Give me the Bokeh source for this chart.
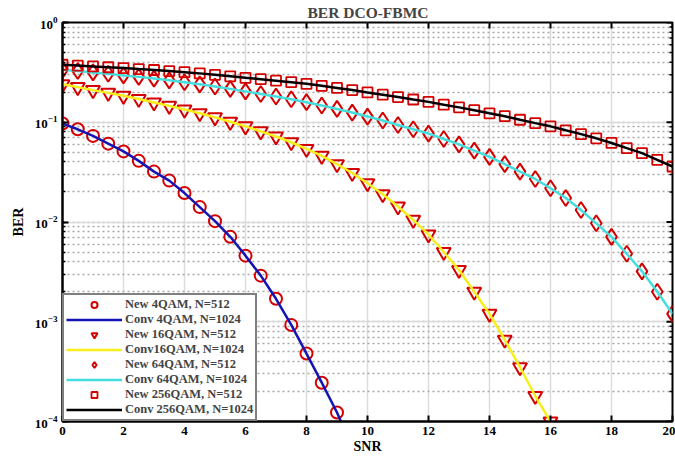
import math
from bokeh.plotting import figure
from bokeh.models import Range1d, FixedTicker, Legend, LegendItem
from bokeh.embed import file_html
from bokeh.resources import INLINE

# ---------------- data ----------------
snr_4qam = [0, 0.5, 1, 1.5, 2, 2.5, 3, 3.5, 4, 4.5, 5, 5.5, 6, 6.5, 7, 7.5, 8, 8.5, 9]
ber_new_4qam = [0.097, 0.085, 0.073, 0.061, 0.051, 0.041, 0.032, 0.026, 0.0195, 0.0141,
                0.0102, 0.0071, 0.0046, 0.0029, 0.0017, 0.00093, 0.00048, 0.000245, 0.000123]
snr_conv_4qam = snr_4qam + [9.5]
ber_conv_4qam = ber_new_4qam + [0.000055]

snr_16qam = [0, 0.5, 1, 1.5, 2, 2.5, 3, 3.5, 4, 4.5, 5, 5.5, 6, 6.5, 7, 7.5, 8,
             8.5, 9, 9.5, 10, 10.5, 11, 11.5, 12, 12.5, 13, 13.5, 14, 14.5, 15, 15.5, 16]
ber_new_16qam = [0.24, 0.225, 0.21, 0.197, 0.184, 0.171, 0.158, 0.146, 0.134, 0.123,
                 0.112, 0.101, 0.091, 0.081, 0.072, 0.063, 0.054, 0.046, 0.038, 0.031,
                 0.0245, 0.019, 0.0143, 0.0105, 0.0075, 0.0050, 0.0033, 0.0020, 0.0012,
                 0.00066, 0.00035, 0.00018, 0.0001]
ber_conv_16qam = ber_new_16qam

snr_full = [0, 0.5, 1, 1.5, 2, 2.5, 3, 3.5, 4, 4.5, 5, 5.5, 6, 6.5, 7, 7.5, 8, 8.5, 9, 9.5,
            10, 10.5, 11, 11.5, 12, 12.5, 13, 13.5, 14, 14.5, 15, 15.5, 16, 16.5, 17, 17.5,
            18, 18.5, 19, 19.5, 20]
ber_new_64qam = [0.335, 0.326, 0.316, 0.306, 0.295, 0.285, 0.274, 0.263, 0.252, 0.240,
                 0.228, 0.216, 0.204, 0.192, 0.181, 0.170, 0.159, 0.147, 0.136, 0.125,
                 0.114, 0.104, 0.094, 0.085, 0.077, 0.068, 0.060, 0.052, 0.045, 0.038,
                 0.032, 0.027, 0.0218, 0.0174, 0.0132, 0.0097, 0.0071, 0.0048, 0.0032,
                 0.0020, 0.0012]
ber_conv_64qam = ber_new_64qam

ber_new_256qam = [0.377, 0.370, 0.363, 0.356, 0.349, 0.341, 0.334, 0.326, 0.318, 0.309,
                  0.299, 0.289, 0.279, 0.270, 0.261, 0.252, 0.243, 0.232, 0.221, 0.210,
                  0.199, 0.189, 0.179, 0.169, 0.160, 0.150, 0.141, 0.132, 0.123, 0.115,
                  0.106, 0.098, 0.091, 0.083, 0.076, 0.069, 0.062, 0.055, 0.049, 0.042,
                  0.036]
ber_conv_256qam = ber_new_256qam

x_ticks = [0, 2, 4, 6, 8, 10, 12, 14, 16, 18, 20]
y_ticks = [1e-4, 1e-3, 1e-2, 1e-1, 1]
y_minor = [m * d for d in y_ticks[:-1] for m in range(2, 10)]

FONT = "Liberation Serif"
RED = "#d40000"

p = figure(width=675, height=465, y_axis_type="log", output_backend="svg",
           toolbar_location=None, x_range=Range1d(0, 20), y_range=Range1d(1e-4, 1),
           min_border_left=62, min_border_right=3, min_border_top=4, min_border_bottom=44)

p.title.text = "BER DCO-FBMC"
p.title.align = "left"
p.title.offset = 245
p.title.text_font = FONT
p.title.text_font_style = "bold"
p.title.text_font_size = "15.5px"
p.title.standoff = 3

p.outline_line_color = "black"
p.outline_line_width = 2

# grids
p.xgrid.ticker = FixedTicker(ticks=x_ticks)
p.xgrid.grid_line_color = "#dcdcdc"
p.xgrid.grid_line_width = 1.5
p.ygrid.grid_line_color = "#dcdcdc"
p.ygrid.grid_line_width = 1.5
p.ygrid.minor_grid_line_color = "#a8a8a8"
p.ygrid.minor_grid_line_dash = "2 3"
p.ygrid.minor_grid_line_width = 1.5

def style_axis(ax):
    ax.axis_line_color = "black"
    ax.axis_line_width = 2
    ax.major_tick_in = 6
    ax.major_tick_out = 0
    ax.major_tick_line_width = 2
    ax.major_label_text_font = FONT
    ax.major_label_text_font_style = "bold"
    ax.major_label_text_font_size = "13px"
    ax.major_label_text_color = "black"
    ax.axis_label_text_font = FONT
    ax.axis_label_text_font_style = "bold"
    ax.axis_label_text_font_size = "14px"
    ax.axis_label_text_color = "black"

xa = p.xaxis[0]
xa.ticker = FixedTicker(ticks=x_ticks)
style_axis(xa)
xa.minor_tick_line_color = None
xa.axis_label = "SNR"
xa.axis_label_standoff = 1
xa.major_label_standoff = 5

ya = p.yaxis[0]
style_axis(ya)
ya.minor_tick_in = 3
ya.minor_tick_out = 0
ya.minor_tick_line_width = 1.5
ya.axis_label = "BER"
ya.axis_label_standoff = 6
ya.major_label_standoff = 5

# mirrored tick marks on top and right edges (clipped to the frame)
p.scatter(x_ticks, [1] * len(x_ticks), marker="dash", angle=math.pi / 2, size=12,
          line_color="black", line_width=2)
p.scatter([20] * len(y_ticks), y_ticks, marker="dash", size=12,
          line_color="black", line_width=2)
p.scatter([20] * len(y_minor), y_minor, marker="dash", size=6,
          line_color="black", line_width=1.5)

# glyphs
r1 = p.scatter(snr_4qam, ber_new_4qam, marker="circle", size=12, fill_color=None,
               line_color=RED, line_width=2)
r2 = p.line(snr_conv_4qam, ber_conv_4qam, line_color="#1414b4", line_width=2.5)
r3 = p.scatter(snr_16qam, ber_new_16qam, marker="inverted_triangle", size=14, fill_color=None,
               line_color=RED, line_width=2)
r4 = p.line(snr_16qam, ber_conv_16qam, line_color="#f7ee1a", line_width=2.5)
r5 = p.scatter(snr_full, ber_new_64qam, marker="diamond", size=16, fill_color=None,
               line_color=RED, line_width=2)
r6 = p.line(snr_full, ber_conv_64qam, line_color="#45dede", line_width=2.5)
r7 = p.scatter(snr_full, ber_new_256qam, marker="square", size=10, fill_color=None,
               line_color=RED, line_width=1.8)
r8 = p.line(snr_full, ber_conv_256qam, line_color="black", line_width=2.5)

items = [
    LegendItem(label="New 4QAM, N=512", renderers=[r1]),
    LegendItem(label="Conv 4QAM, N=1024", renderers=[r2]),
    LegendItem(label="New 16QAM, N=512", renderers=[r3]),
    LegendItem(label="Conv16QAM, N=1024", renderers=[r4]),
    LegendItem(label="New 64QAM, N=512", renderers=[r5]),
    LegendItem(label="Conv 64QAM, N=1024", renderers=[r6]),
    LegendItem(label="New 256QAM, N=512", renderers=[r7]),
    LegendItem(label="Conv 256QAM, N=1024", renderers=[r8]),
]
legend = Legend(items=items, location="bottom_left", margin=0, padding=2, spacing=0,
                label_height=15, glyph_height=15, glyph_width=56, label_standoff=3,
                label_text_font=FONT, label_text_font_style="bold",
                label_text_font_size="12.5px", border_line_color="black",
                border_line_width=2, background_fill_alpha=1.0)
p.add_layout(legend, "center")

open("out.html", "w").write(file_html(p, INLINE))
